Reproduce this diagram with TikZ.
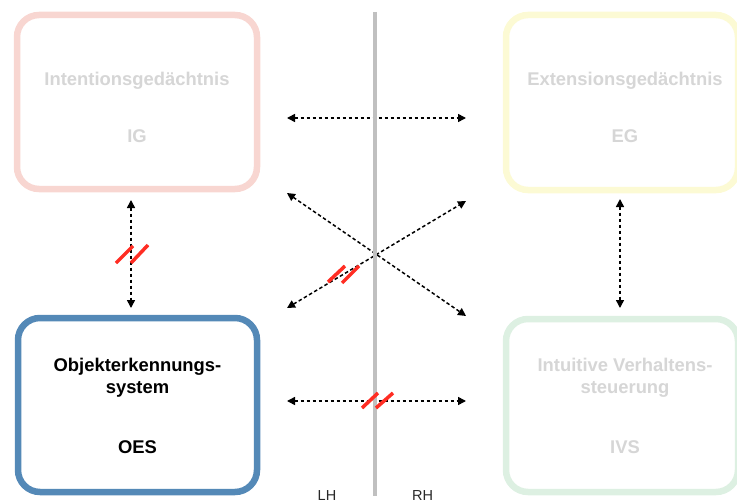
\documentclass[tikz,border=0pt]{standalone}
\usepackage{fontspec}
\setmainfont{Liberation Sans}
\usetikzlibrary{arrows.meta}
\definecolor{igc}{RGB}{248,214,209}
\definecolor{egc}{RGB}{252,250,212}
\definecolor{ivsc}{RGB}{221,240,226}
\definecolor{oesc}{RGB}{84,137,183}
\definecolor{fadedtext}{RGB}{214,214,214}
\definecolor{dividerc}{RGB}{192,192,192}
\definecolor{cutred}{RGB}{255,45,35}
\definecolor{lhc}{RGB}{40,40,40}
\begin{document}
\begin{tikzpicture}[x=1pt,y=-1pt,
  box/.style={draw, line width=6.5pt, rounded corners=22pt, inner sep=0pt, fill=white},
  lbl/.style={anchor=base, inner sep=0pt, font=\fontsize{18.4}{22}\selectfont\bfseries, text=fadedtext},
  lblact/.style={lbl, text=black},
  hemi/.style={anchor=base, inner sep=0pt, font=\fontsize{14.5}{17}\selectfont, text=lhc},
  conn/.style={line width=1.5pt, dash pattern=on 3.5pt off 2.5pt,
    {Triangle[length=8pt,width=8pt]}-{Triangle[length=8pt,width=8pt]}},
  divider/.style={draw=dividerc, line width=3.5pt},
  cut/.style={draw=cutred, line width=3.5pt}
]
\useasboundingbox (0,0) rectangle (737,503);

% boxes
\node[box, draw=igc,  minimum width=240pt, minimum height=174pt] (ig)  at (137,102) {};
\node[box, draw=egc,  minimum width=232pt, minimum height=175pt] (eg)  at (622,102.5) {};
\node[box, draw=oesc, minimum width=239pt, minimum height=174pt] (oes) at (137.5,405) {};
\node[box, draw=ivsc, minimum width=232pt, minimum height=173pt] (ivs) at (622,405.5) {};

% texts
\node[lbl] (igname) at (137,86) {Intentionsgedächtnis};
\node[lbl] (igabbr) at (137,142.7) {IG};
\node[lbl] (egname) at (625,86) {Extensionsgedächtnis};
\node[lbl] (egabbr) at (625,142.7) {EG};
\node[lblact] (oesname1) at (137.5,371.7) {Objekterkennungs-};
\node[lblact] (oesname2) at (137.5,393.3) {system};
\node[lblact] (oesabbr)  at (137.5,453.3) {OES};
\node[lbl] (ivsname1) at (625,371.5) {Intuitive Verhaltens-};
\node[lbl] (ivsname2) at (625,393.3) {steuerung};
\node[lbl] (ivsabbr)  at (625,453.3) {IVS};

% connector end points
\coordinate (th1) at (287,118);   \coordinate (th2) at (466,118);
\coordinate (bh1) at (287,401);   \coordinate (bh2) at (466,401);
\coordinate (lv1) at (131,200);   \coordinate (lv2) at (131,308);
\coordinate (rv1) at (620,199);   \coordinate (rv2) at (620,308);
\coordinate (da1) at (287,193);   \coordinate (da2) at (466,316);
\coordinate (db1) at (287,308);   \coordinate (db2) at (466,201);

% connectors
\draw[conn] (th1) -- (th2);
\draw[conn] (bh1) -- (bh2);
\draw[conn] (lv1) -- (lv2);
\draw[conn] (rv1) -- (rv2);
\draw[conn] (da1) -- (da2);
\draw[conn] (db1) -- (db2);

% hemisphere divider
\coordinate (dtop) at (375,12);
\coordinate (dbot) at (375,496);
\draw[divider] (dtop) -- (dbot);

% interruption marks
\draw[cut] (116,263) -- (133,246);
\draw[cut] (131,263) -- (148,245);
\draw[cut] (328,282) -- (345,266);
\draw[cut] (342,283) -- (359,266);
\draw[cut] (362,408) -- (378,393);
\draw[cut] (376,408) -- (393,393);

% hemisphere labels
\node[hemi] (lh) at (327,500.5) {LH};
\node[hemi] (rh) at (422.5,500.5) {RH};
\end{tikzpicture}
\end{document}
